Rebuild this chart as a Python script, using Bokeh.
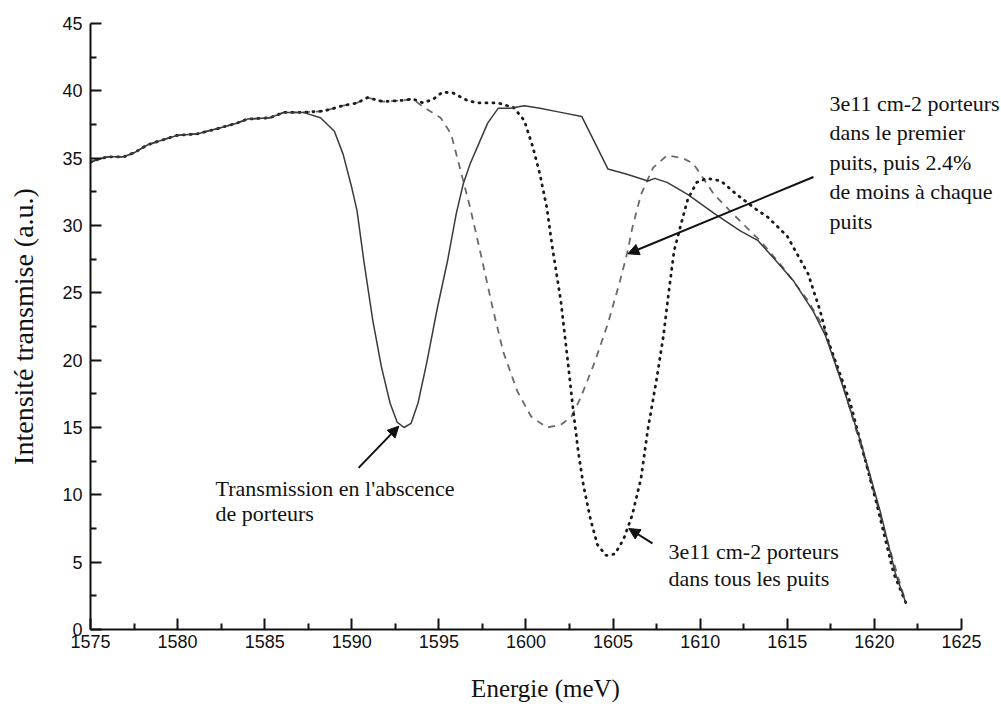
from bokeh.plotting import figure
from bokeh.models import Label, Arrow, NormalHead, Range1d, FixedTicker
from bokeh.embed import file_html
from bokeh.resources import INLINE

# ---------------- data ----------------
base_energy = [1575.0, 1575.4, 1576.0, 1576.9, 1577.5, 1578.3, 1579.0, 1580.0, 1581.1,
               1582.3, 1583.4, 1584.0, 1585.3, 1586.1, 1587.2]
base_intensity = [34.7, 34.9, 35.1, 35.1, 35.4, 36.0, 36.3, 36.7, 36.8,
                  37.2, 37.6, 37.9, 38.0, 38.4, 38.4]

# no carriers (solid)
solid_energy = base_energy + [1588.2, 1589.0, 1589.5, 1590.0, 1590.3, 1590.7, 1591.2, 1591.7,
                              1592.2, 1592.6, 1593.0, 1593.4, 1593.8, 1594.3, 1594.9, 1595.5,
                              1596.0, 1596.4, 1596.8, 1597.2, 1597.8, 1598.4, 1599.1, 1599.9,
                              1600.8, 1602.0, 1603.2, 1604.7, 1605.8, 1607.0, 1607.4, 1608.1,
                              1609.3, 1610.8, 1612.3, 1613.3, 1614.2, 1615.35, 1616.5, 1617.2,
                              1618.05, 1619.2, 1620.35, 1621.2, 1621.8]
solid_intensity = base_intensity + [38.0, 37.0, 35.3, 32.8, 31.1, 27.3, 23.0, 19.5,
                                    16.8, 15.4, 15.0, 15.3, 16.8, 19.8, 23.8, 27.4,
                                    30.9, 33.1, 34.6, 35.8, 37.6, 38.7, 38.7, 38.9,
                                    38.7, 38.4, 38.1, 34.2, 33.8, 33.3, 33.5, 33.2,
                                    32.3, 30.9, 29.6, 28.9, 27.6, 25.9, 23.6, 21.8,
                                    18.6, 14.0, 8.7, 4.2, 2.0]

# 3e11 cm-2 in the first well, then 2.4% less in each well (dashed)
dashed_energy = base_energy + [1588.4, 1589.5, 1590.3, 1590.9, 1591.8, 1593.0, 1593.5, 1594.1,
                               1595.1, 1595.7, 1596.2, 1596.8, 1597.4, 1598.1, 1598.7, 1599.5,
                               1600.3, 1601.2, 1602.0, 1602.6, 1603.1, 1603.9, 1604.7, 1605.4,
                               1605.8, 1606.1, 1606.6, 1607.3, 1608.1, 1609.0, 1609.6, 1610.8,
                               1611.7, 1612.7, 1613.5, 1614.8, 1616.2, 1617.1, 1618.3, 1619.5,
                               1620.6, 1621.8]
dashed_intensity = base_intensity + [38.5, 38.9, 39.1, 39.5, 39.2, 39.3, 39.4, 38.8,
                                     38.0, 36.8, 34.3, 31.3, 27.9, 23.8, 20.6, 17.7,
                                     15.8, 15.0, 15.2, 15.8, 17.1, 19.7, 22.7, 25.9,
                                     27.9, 29.8, 32.3, 34.3, 35.2, 35.0, 34.6, 32.3,
                                     31.1, 29.8, 28.8, 26.8, 24.4, 22.4, 17.7, 12.4,
                                     7.2, 2.0]

# 3e11 cm-2 in all wells (dotted)
dotted_energy = base_energy + [1588.4, 1589.5, 1590.3, 1590.9, 1591.8, 1593.0, 1593.5,
                               1594.1, 1594.7, 1595.2, 1595.8, 1596.6, 1597.2, 1598.0, 1598.4,
                               1599.3, 1599.9, 1600.4, 1600.8, 1601.2, 1601.5, 1602.0, 1602.4,
                               1602.7, 1603.0, 1603.3, 1603.7, 1604.1, 1604.6, 1605.1, 1605.6,
                               1606.1, 1606.6, 1607.0, 1607.5, 1607.9, 1608.2, 1608.5, 1608.9,
                               1609.3, 1609.8, 1610.4, 1611.2, 1612.1, 1613.1, 1613.9, 1615.0,
                               1616.2, 1616.9, 1617.3, 1618.6, 1620.1, 1621.1, 1621.8]
dotted_intensity = base_intensity + [38.5, 38.9, 39.1, 39.5, 39.2, 39.3, 39.4,
                                     39.1, 39.4, 39.9, 39.85, 39.3, 39.1, 39.1, 39.1,
                                     38.75, 37.8, 35.8, 33.8, 31.3, 28.5, 24.4, 19.9,
                                     16.4, 13.2, 10.7, 8.2, 6.3, 5.5, 5.6, 6.7,
                                     8.5, 11.2, 14.9, 18.6, 21.9, 25.1, 28.1, 30.1,
                                     32.0, 33.2, 33.5, 33.3, 32.3, 31.3, 30.6, 29.2,
                                     26.4, 23.6, 21.6, 16.9, 9.5, 4.2, 2.0]

x_ticks = [1575, 1580, 1585, 1590, 1595, 1600, 1605, 1610, 1615, 1620, 1625]
x_minor = [1577.5, 1582.5, 1587.5, 1592.5, 1597.5, 1602.5, 1607.5, 1612.5, 1617.5, 1622.5]
y_ticks = [0, 5, 10, 15, 20, 25, 30, 35, 40, 45]
y_minor = [2.5, 7.5, 12.5, 17.5, 22.5, 27.5, 32.5, 37.5, 42.5]

note_absence = ["Transmission en l'abscence", "de porteurs"]
note_all = ["3e11 cm-2 porteurs", "dans tous les puits"]
note_first = ["3e11 cm-2 porteurs", "dans le premier", "puits, puis 2.4%",
              "de moins à chaque", "puits"]

# ---------------- figure ----------------
# frame reaches the right edge so the right-hand note is not clipped;
# the drawn x axis itself stops at 1625
W, H = 1000, 706
p = figure(width=W, height=H, x_range=Range1d(1575, 1627.24), y_range=Range1d(0, 45),
           output_backend="svg", toolbar_location=None,
           min_border_left=90, min_border_right=0, min_border_top=23, min_border_bottom=77)
p.outline_line_color = None
p.grid.visible = False
p.background_fill_color = "white"
p.border_fill_color = "white"

p.xaxis.ticker = FixedTicker(ticks=x_ticks, minor_ticks=x_minor)
p.yaxis.ticker = FixedTicker(ticks=y_ticks, minor_ticks=y_minor)
p.xaxis.bounds = (1575, 1625)

for ax in (p.xaxis, p.yaxis):
    ax.axis_line_color = "#111111"
    ax.axis_line_width = 2
    ax.major_tick_line_color = "#111111"
    ax.major_tick_line_width = 2
    ax.minor_tick_line_color = "#111111"
    ax.minor_tick_line_width = 2
    ax.major_tick_in = 11
    ax.major_tick_out = 0
    ax.minor_tick_in = 6
    ax.minor_tick_out = 0
    ax.major_label_text_font = "Liberation Sans"
    ax.major_label_text_font_size = "18px"
    ax.major_label_text_color = "#111111"
    ax.axis_label_text_font = "Liberation Serif"
    ax.axis_label_text_font_style = "normal"
    ax.axis_label_text_color = "#111111"

p.xaxis.axis_label = "Energie (meV)"
p.yaxis.axis_label = "Intensité transmise (a.u.)"
p.xaxis.axis_label_text_font_size = "25px"
p.yaxis.axis_label_text_font_size = "28px"
p.xaxis.major_label_standoff = 5
p.yaxis.major_label_standoff = 8
p.xaxis.axis_label_standoff = 24
p.yaxis.axis_label_standoff = 20

p.line(dashed_energy, dashed_intensity, line_color="#6a6a6a", line_width=1.8,
       line_dash="7 6")
p.line(dotted_energy, dotted_intensity, line_color="#1a1a1a", line_width=2.8,
       line_dash="1 6", line_cap="round")
p.line(solid_energy, solid_intensity, line_color="#3a3a3a", line_width=1.5)

def note(lines, x, y0, step):
    for i, t in enumerate(lines):
        p.add_layout(Label(x=x, y=y0 - i * step, text=t, text_font="Liberation Serif",
                           text_font_size="22px", text_font_style="normal",
                           text_color="#111111",
                           text_baseline="middle", text_align="left"))

note(note_absence, 1582.18, 10.45, 1.8)
note(note_all, 1608.18, 5.8, 2.0)
note(note_first, 1617.42, 39.06, 2.19)

def arrow(x0, y0, x1, y1):
    p.add_layout(Arrow(end=NormalHead(size=11, fill_color="#111111", line_color="#111111"),
                       x_start=x0, y_start=y0, x_end=x1, y_end=y1,
                       line_color="#111111", line_width=2))

arrow(1590.39, 12.0, 1592.7, 15.1)
arrow(1616.5, 33.6, 1605.85, 27.9)
arrow(1607.26, 6.4, 1605.9, 7.5)

open("out.html", "w").write(file_html(p, INLINE))
